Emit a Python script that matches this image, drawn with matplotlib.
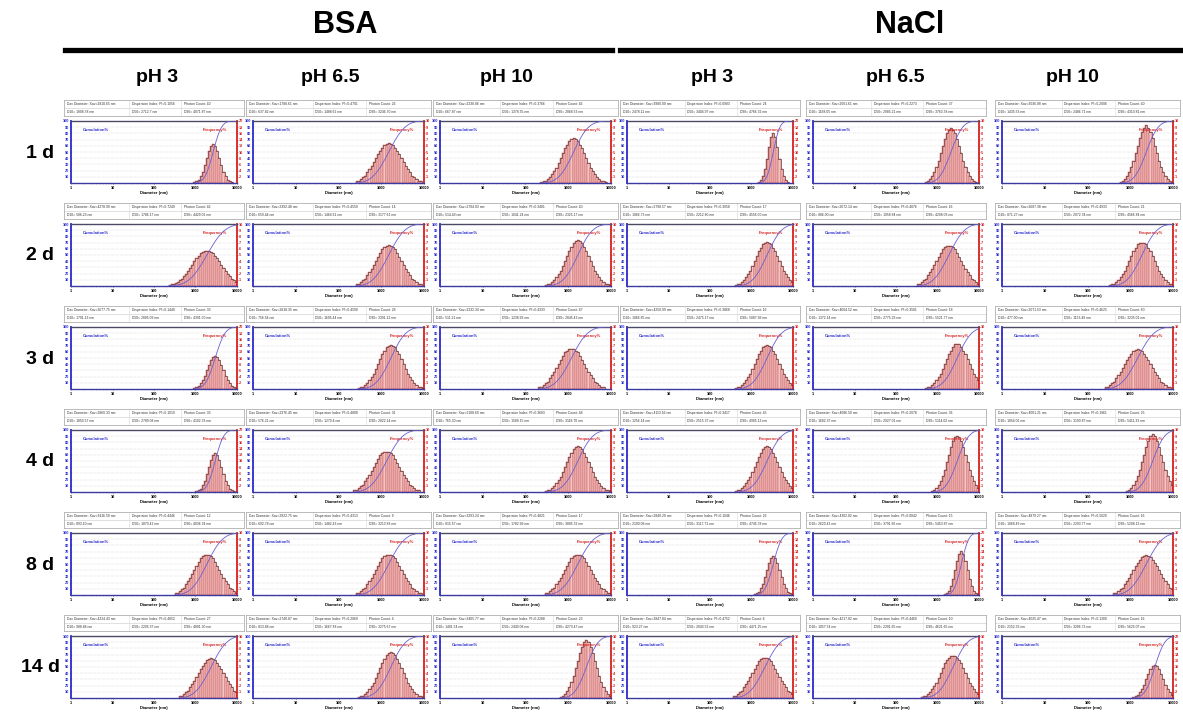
import numpy as np
import matplotlib
matplotlib.use('Agg')
import matplotlib.pyplot as plt
from matplotlib.lines import Line2D
from matplotlib.ticker import LogLocator, FixedLocator, NullFormatter

plt.rcParams['font.family'] = ['Liberation Sans', 'DejaVu Sans']

# ---------------- data ----------------
GROUPS = ['BSA', 'NaCl']
PH_LABELS = ['pH 3', 'pH 6.5', 'pH 10', 'pH 3', 'pH 6.5', 'pH 10']
DAY_LABELS = ['1 d', '2 d', '3 d', '4 d', '8 d', '14 d']
X_TICKS = [1, 10, 100, 1000, 10000]
X_TICK_LABELS = ['1', '10', '100', '1000', '10000']
BIN_STEP = 0.05  # width of one size class, in log10(nm)

# log10 of the lower edge of the first size class with data, per day (rows) and sample (cols)
FIRST_LOG = [
    [2.95, 2.40, 2.35, 3.15, 2.70, 2.75],
    [2.35, 2.40, 2.45, 2.60, 2.50, 2.50],
    [2.95, 2.45, 2.30, 2.60, 2.70, 2.40],
    [3.00, 2.35, 2.45, 2.60, 2.85, 2.90],
    [2.50, 2.40, 2.45, 3.05, 3.15, 2.60],
    [2.60, 2.45, 2.80, 2.55, 2.60, 3.05],
]
RIGHT_MAX = [
    [20, 10, 10, 20, 10, 10],
    [10, 10, 10, 10, 10, 10],
    [20, 10, 10, 10, 10, 10],
    [20, 10, 10, 10, 10, 10],
    [10, 10, 10, 20, 20, 10],
    [10, 10, 10, 10, 10, 20],
]

FREQ_1D = [
    [0.2, 0.6, 1.1, 2.2, 3.7, 5.7, 8.1, 10.3, 11.9, 12.5, 11.9, 10.3, 8.1, 5.7, 3.7, 2.2, 1.1, 0.6, 0.2],
    [0.3, 0.4, 0.6, 0.9, 1.2, 1.7, 2.2, 2.7, 3.4, 4.0, 4.6, 5.2, 5.7, 6.1, 6.3, 6.4, 6.3, 6.1, 5.7, 5.2, 4.6, 4.0, 3.4, 2.7, 2.2, 1.7, 1.2, 0.9, 0.6, 0.4, 0.3],
    [0.2, 0.3, 0.4, 0.7, 1.0, 1.4, 1.9, 2.5, 3.2, 4.0, 4.8, 5.6, 6.2, 6.8, 7.1, 7.3, 7.1, 6.8, 6.2, 5.6, 4.8, 4.0, 3.2, 2.5, 1.9, 1.4, 1.0, 0.7, 0.4, 0.3, 0.2],
    [0.3, 0.9, 2.2, 4.4, 7.8, 11.6, 14.8, 16.0, 14.8, 11.6, 7.8, 4.4, 2.2, 0.9, 0.3],
    [0.2, 0.4, 0.7, 1.1, 1.7, 2.6, 3.6, 4.8, 6.0, 7.1, 8.0, 8.6, 8.8, 8.6, 8.0, 7.1, 6.0, 4.8, 3.6, 2.6, 1.7, 1.1, 0.7, 0.4, 0.2],
    [0.2, 0.4, 0.7, 1.1, 1.7, 2.6, 3.6, 4.8, 6.0, 7.2, 8.2, 8.9, 9.3, 8.9, 8.2, 7.2, 6.0, 4.8, 3.6, 2.6, 1.7, 1.1, 0.7, 0.4, 0.2],
]
FREQ_2D = [
    [0.2, 0.3, 0.4, 0.5, 0.7, 0.9, 1.2, 1.6, 2.0, 2.4, 2.9, 3.4, 4.0, 4.5, 4.9, 5.3, 5.5, 5.6, 5.7, 5.6, 5.5, 5.3, 4.9, 4.5, 4.0, 3.4, 2.9, 2.4, 2.0, 1.6, 1.2, 0.9, 0.7, 0.5, 0.4, 0.3, 0.2],
    [0.3, 0.4, 0.6, 0.9, 1.2, 1.7, 2.2, 2.7, 3.4, 4.0, 4.7, 5.3, 5.9, 6.3, 6.5, 6.6, 6.5, 6.3, 5.9, 5.3, 4.7, 4.0, 3.4, 2.7, 2.2, 1.7, 1.2, 0.9, 0.6, 0.4, 0.3],
    [0.2, 0.3, 0.4, 0.7, 1.0, 1.4, 1.9, 2.5, 3.2, 4.0, 4.8, 5.6, 6.3, 6.9, 7.3, 7.4, 7.3, 6.9, 6.3, 5.6, 4.8, 4.0, 3.2, 2.5, 1.9, 1.4, 1.0, 0.7, 0.4, 0.3, 0.2],
    [0.2, 0.3, 0.4, 0.7, 1.0, 1.4, 1.9, 2.5, 3.2, 4.0, 4.8, 5.6, 6.2, 6.7, 7.0, 7.1, 7.0, 6.7, 6.2, 5.6, 4.8, 4.0, 3.2, 2.5, 1.9, 1.4, 1.0, 0.7, 0.4, 0.3, 0.2],
    [0.3, 0.4, 0.6, 0.9, 1.2, 1.7, 2.2, 2.7, 3.4, 4.0, 4.7, 5.3, 5.9, 6.3, 6.5, 6.5, 6.5, 6.3, 5.9, 5.3, 4.7, 4.0, 3.4, 2.7, 2.2, 1.7, 1.2, 0.9, 0.6, 0.4, 0.3],
    [0.2, 0.3, 0.4, 0.7, 1.0, 1.4, 1.9, 2.5, 3.2, 4.0, 4.8, 5.6, 6.2, 6.7, 6.9, 7.0, 6.9, 6.7, 6.2, 5.6, 4.8, 4.0, 3.2, 2.5, 1.9, 1.4, 1.0, 0.7, 0.4, 0.3, 0.2],
]
FREQ_3D = [
    [0.3, 0.6, 1.0, 1.8, 2.9, 4.3, 6.0, 7.8, 9.3, 10.2, 10.6, 10.2, 9.3, 7.8, 6.0, 4.3, 2.9, 1.8, 1.0, 0.6, 0.3],
    [0.2, 0.3, 0.4, 0.7, 1.0, 1.4, 1.9, 2.5, 3.2, 4.0, 4.8, 5.6, 6.2, 6.7, 7.0, 7.1, 7.0, 6.7, 6.2, 5.6, 4.8, 4.0, 3.2, 2.5, 1.9, 1.4, 1.0, 0.7, 0.4, 0.3, 0.2],
    [0.3, 0.4, 0.6, 0.9, 1.2, 1.7, 2.2, 2.7, 3.4, 4.0, 4.7, 5.3, 5.9, 6.2, 6.4, 6.5, 6.4, 6.2, 5.9, 5.3, 4.7, 4.0, 3.4, 2.7, 2.2, 1.7, 1.2, 0.9, 0.6, 0.4, 0.3],
    [0.2, 0.3, 0.4, 0.7, 1.0, 1.4, 1.9, 2.5, 3.2, 4.0, 4.8, 5.6, 6.2, 6.7, 7.0, 7.1, 7.0, 6.7, 6.2, 5.6, 4.8, 4.0, 3.2, 2.5, 1.9, 1.4, 1.0, 0.7, 0.4, 0.3, 0.2],
    [0.2, 0.3, 0.4, 0.7, 1.0, 1.4, 1.9, 2.5, 3.2, 4.0, 4.8, 5.6, 6.2, 6.8, 7.2, 7.3, 7.2, 6.8, 6.2, 5.6, 4.8, 4.0, 3.2, 2.5, 1.9, 1.4, 1.0, 0.7, 0.4, 0.3, 0.2],
    [0.3, 0.4, 0.6, 0.9, 1.2, 1.7, 2.2, 2.7, 3.4, 4.0, 4.6, 5.2, 5.7, 6.1, 6.3, 6.4, 6.3, 6.1, 5.7, 5.2, 4.6, 4.0, 3.4, 2.7, 2.2, 1.7, 1.2, 0.9, 0.6, 0.4, 0.3],
]
FREQ_4D = [
    [0.2, 0.6, 1.1, 2.2, 3.7, 5.7, 8.1, 10.3, 11.9, 12.5, 11.9, 10.3, 8.1, 5.7, 3.7, 2.2, 1.1, 0.6, 0.2],
    [0.3, 0.4, 0.6, 0.9, 1.2, 1.7, 2.2, 2.7, 3.4, 4.0, 4.7, 5.3, 5.9, 6.3, 6.5, 6.5, 6.5, 6.3, 5.9, 5.3, 4.7, 4.0, 3.4, 2.7, 2.2, 1.7, 1.2, 0.9, 0.6, 0.4, 0.3],
    [0.2, 0.3, 0.4, 0.7, 1.0, 1.4, 1.9, 2.5, 3.2, 4.0, 4.8, 5.6, 6.3, 6.9, 7.3, 7.4, 7.3, 6.9, 6.3, 5.6, 4.8, 4.0, 3.2, 2.5, 1.9, 1.4, 1.0, 0.7, 0.4, 0.3, 0.2],
    [0.2, 0.3, 0.4, 0.7, 1.0, 1.4, 1.9, 2.5, 3.2, 4.0, 4.8, 5.6, 6.3, 6.9, 7.3, 7.5, 7.3, 6.9, 6.3, 5.6, 4.8, 4.0, 3.2, 2.5, 1.9, 1.4, 1.0, 0.7, 0.4, 0.3, 0.2],
    [0.2, 0.4, 0.7, 1.1, 1.7, 2.6, 3.6, 4.8, 6.0, 7.2, 8.2, 8.9, 9.1, 8.9, 8.2, 7.2, 6.0, 4.8, 3.6, 2.6, 1.7, 1.1, 0.7, 0.4, 0.2],
    [0.2, 0.4, 0.7, 1.1, 1.7, 2.6, 3.6, 4.8, 6.0, 7.2, 8.2, 9.0, 9.3, 9.0, 8.2, 7.2, 6.0, 4.8, 3.6, 2.6, 1.7, 1.1, 0.7, 0.4, 0.2],
]
FREQ_8D = [
    [0.3, 0.4, 0.6, 0.9, 1.2, 1.7, 2.2, 2.7, 3.4, 4.0, 4.7, 5.3, 5.9, 6.3, 6.5, 6.5, 6.5, 6.3, 5.9, 5.3, 4.7, 4.0, 3.4, 2.7, 2.2, 1.7, 1.2, 0.9, 0.6, 0.4, 0.3],
    [0.3, 0.4, 0.6, 0.9, 1.2, 1.7, 2.2, 2.7, 3.4, 4.0, 4.7, 5.3, 5.9, 6.3, 6.5, 6.5, 6.5, 6.3, 5.9, 5.3, 4.7, 4.0, 3.4, 2.7, 2.2, 1.7, 1.2, 0.9, 0.6, 0.4, 0.3],
    [0.3, 0.4, 0.6, 0.9, 1.2, 1.7, 2.2, 2.7, 3.4, 4.0, 4.7, 5.3, 5.9, 6.3, 6.5, 6.5, 6.5, 6.3, 5.9, 5.3, 4.7, 4.0, 3.4, 2.7, 2.2, 1.7, 1.2, 0.9, 0.6, 0.4, 0.3],
    [0.2, 0.6, 1.1, 2.2, 3.7, 5.7, 8.1, 10.3, 11.9, 12.5, 11.9, 10.3, 8.1, 5.7, 3.7, 2.2, 1.1, 0.6, 0.2],
    [0.2, 0.6, 1.4, 2.9, 5.1, 8.0, 11.0, 13.3, 14.2, 13.3, 11.0, 8.0, 5.1, 2.9, 1.4, 0.6, 0.2],
    [0.3, 0.4, 0.6, 0.9, 1.2, 1.7, 2.2, 2.7, 3.4, 4.0, 4.6, 5.2, 5.7, 6.1, 6.3, 6.4, 6.3, 6.1, 5.7, 5.2, 4.6, 4.0, 3.4, 2.7, 2.2, 1.7, 1.2, 0.9, 0.6, 0.4, 0.3],
]
FREQ_14D = [
    [0.3, 0.4, 0.6, 0.9, 1.2, 1.7, 2.2, 2.7, 3.4, 4.0, 4.6, 5.2, 5.7, 6.1, 6.3, 6.4, 6.3, 6.1, 5.7, 5.2, 4.6, 4.0, 3.4, 2.7, 2.2, 1.7, 1.2, 0.9, 0.6, 0.4, 0.3],
    [0.2, 0.3, 0.4, 0.7, 1.0, 1.4, 1.9, 2.5, 3.2, 4.0, 4.8, 5.6, 6.3, 6.9, 7.3, 7.5, 7.3, 6.9, 6.3, 5.6, 4.8, 4.0, 3.2, 2.5, 1.9, 1.4, 1.0, 0.7, 0.4, 0.3, 0.2],
    [0.2, 0.4, 0.7, 1.1, 1.7, 2.6, 3.6, 4.8, 6.0, 7.2, 8.2, 9.0, 9.3, 9.0, 8.2, 7.2, 6.0, 4.8, 3.6, 2.6, 1.7, 1.1, 0.7, 0.4, 0.2],
    [0.3, 0.4, 0.6, 0.9, 1.2, 1.7, 2.2, 2.7, 3.4, 4.0, 4.7, 5.3, 5.9, 6.3, 6.5, 6.5, 6.5, 6.3, 5.9, 5.3, 4.7, 4.0, 3.4, 2.7, 2.2, 1.7, 1.2, 0.9, 0.6, 0.4, 0.3],
    [0.2, 0.3, 0.4, 0.7, 1.0, 1.4, 1.9, 2.5, 3.2, 4.0, 4.8, 5.6, 6.1, 6.5, 6.7, 6.8, 6.7, 6.5, 6.1, 5.6, 4.8, 4.0, 3.2, 2.5, 1.9, 1.4, 1.0, 0.7, 0.4, 0.3, 0.2],
    [0.3, 0.6, 1.0, 1.8, 2.9, 4.3, 6.0, 7.8, 9.3, 10.4, 10.8, 10.4, 9.3, 7.8, 6.0, 4.3, 2.9, 1.8, 1.0, 0.6, 0.3],
]
FREQ = [FREQ_1D, FREQ_2D, FREQ_3D, FREQ_4D, FREQ_8D, FREQ_14D]

XAV = [
    ['2810.65', '1788.61', '2238.86', '3980.00', '2001.61', '3036.88'],
    ['4278.90', '2392.48', '2704.03', '2798.57', '2672.14', '2687.38'],
    ['2677.75', '2818.35', '2232.34', '4250.99', '4604.52', '2071.53'],
    ['2860.33', '2376.45', '2108.60', '4113.56', '4086.50', '4001.21'],
    ['3416.50', '2922.75', '3293.24', '2849.20', '4302.82', '4879.27'],
    ['4224.43', '2740.87', '3405.77', '3847.84', '4217.82', '4025.47'],
]
PI = [
    ['0.1056', '0.4701', '0.3766', '0.0983', '0.2273', '0.2006'],
    ['0.7249', '0.4550', '0.3481', '0.3058', '0.4876', '0.4933'],
    ['0.1440', '0.4590', '0.4333', '0.3868', '0.3581', '0.4625'],
    ['0.1019', '0.4808', '0.3683', '0.3417', '0.2078', '0.1961'],
    ['0.4446', '0.4313', '0.4821', '0.1046', '0.0842', '0.5020'],
    ['0.4852', '0.2060', '0.2288', '0.4752', '0.4460', '0.1300'],
]
PHOTON = [
    [40, 26, 46, 24, 37, 40],
    [46, 14, 40, 17, 16, 21],
    [33, 28, 47, 16, 18, 60],
    [33, 31, 48, 45, 36, 25],
    [12, 9, 17, 26, 15, 16],
    [27, 4, 23, 6, 10, 16],
]
D10 = [
    ['1808.78', '637.82', '667.87', '2478.11', '1168.05', '1435.53'],
    ['586.23', '659.44', '514.49', '1066.73', '886.00', '871.27'],
    ['1791.13', '756.54', '511.21', '1066.85', '1372.14', '477.00'],
    ['1850.57', '576.21', '765.30', '1256.14', '1682.37', '1854.06'],
    ['893.10', '692.78', '815.57', '2100.08', '2620.42', '1068.49'],
    ['988.88', '813.88', '1401.54', '923.27', '1057.54', '2152.32'],
]
D50 = [
    ['2712.7', '1488.62', '1378.35', '3404.97', '2085.21', '2486.71'],
    ['1786.17', '1464.61', '1041.24', '2212.80', '1958.84', '2072.34'],
    ['2805.09', '1605.44', '1238.92', '2475.17', '2775.23', '1153.49'],
    ['2789.08', '1279.4', '1589.15', '2515.37', '2927.01', '3190.87'],
    ['1870.42', '1482.43', '1782.99', '3117.71', '3791.66', '2293.77'],
    ['2205.37', '1667.88', '2440.08', '2043.52', '2201.65', '3206.73'],
]
D90 = [
    ['4071.87', '3246.70', '2868.53', '4766.32', '3763.38', '4310.81'],
    ['4429.06', '3177.62', '2325.17', '4556.00', '4298.03', '4566.84'],
    ['4391.00', '3391.12', '2845.43', '5087.99', '5521.77', '3235.01'],
    ['4102.33', '2822.14', '3118.70', '4985.13', '5114.02', '5411.33'],
    ['4036.34', '3213.88', '3885.32', '4745.78', '5453.87', '5208.13'],
    ['4801.30', '3275.67', '4273.47', '4471.25', '4621.65', '5625.07'],
]

# ---------------- layout ----------------
W, H = 1183, 715
fig = plt.figure(figsize=(W / 100, H / 100), dpi=100)
fig.patch.set_facecolor('white')


def px_axes(x0, y0, x1, y1):
    return fig.add_axes([x0 / W, 1 - y1 / H, (x1 - x0) / W, (y1 - y0) / H])


PLOT_X = [(71, 237), (253, 424), (440, 611), (627, 793), (813, 979), (1002, 1173)]
ROW_PITCH = 103
PLOT_TOP, PLOT_BOTTOM = 121, 183
TAB_TOP, TAB_BOTTOM = 100, 116

BLUE = '#2a2acc'
RED = '#d42020'
SMALL = 2.8

# headers
fig.text(345 / W, 1 - 25 / H, GROUPS[0], ha='center', va='center', fontsize=22, fontweight='bold')
fig.text(910 / W, 1 - 25 / H, GROUPS[1], ha='center', va='center', fontsize=22, fontweight='bold')
fig.add_artist(Line2D([65 / W, 612 / W], [1 - 50 / H] * 2, lw=3.8, color='black'))
fig.add_artist(Line2D([620 / W, 1180 / W], [1 - 50 / H] * 2, lw=3.8, color='black'))
PH_X = [157, 330, 506, 712, 895, 1072]
for lab, x in zip(PH_LABELS, PH_X):
    fig.text(x / W, 1 - 78 / H, lab, ha='center', va='center', fontsize=14, fontweight='bold')
for r, lab in enumerate(DAY_LABELS):
    fig.text(40 / W, 1 - (153 + ROW_PITCH * r) / H, lab, ha='center', va='center',
             fontsize=14, fontweight='bold')

for r in range(6):
    for c in range(6):
        x0, x1 = PLOT_X[c]
        off = ROW_PITCH * r
        # ---- info table ----
        tax = px_axes(x0 - 7, TAB_TOP + off, x1 + 7, TAB_BOTTOM + off)
        tax.set_xlim(0, 1)
        tax.set_ylim(0, 2)
        tax.set_xticks([])
        tax.set_yticks([])
        for s in tax.spines.values():
            s.set_color('#b0b0b0')
            s.set_linewidth(0.6)
        tax.axhline(1, color='#c8c8c8', lw=0.4)
        for xs in (0.36, 0.65):
            tax.axvline(xs, color='#d8d8d8', lw=0.4)
        row1 = [f'Dav Diameter: Xav={XAV[r][c]} nm', f'Dispersion Index: PI={PI[r][c]}',
                f'Photon Count: {PHOTON[r][c]}']
        row2 = [f'D10= {D10[r][c]} nm', f'D50= {D50[r][c]} nm', f'D90= {D90[r][c]} nm']
        for xs, t1, t2 in zip((0.015, 0.375, 0.665), row1, row2):
            tax.text(xs, 1.5, t1, fontsize=2.4, va='center', ha='left', color='#333333')
            tax.text(xs, 0.5, t2, fontsize=2.4, va='center', ha='left', color='#333333')

        # ---- DLS plot ----
        ax = px_axes(x0, PLOT_TOP + off, x1, PLOT_BOTTOM + off)
        ax2 = ax.twinx()
        ax.set_zorder(ax2.get_zorder() + 1)
        ax.patch.set_visible(False)

        freq = np.array(FREQ[r][c])
        edges = 10 ** (FIRST_LOG[r][c] + BIN_STEP * np.arange(len(freq) + 1))
        rmax = RIGHT_MAX[r][c]

        ax2.bar(edges[:-1], freq, width=np.diff(edges), align='edge',
                facecolor='#f3c6c6', edgecolor='#c03838', linewidth=0.3, zorder=2)
        ax2.stairs(freq, edges, color='#5a2a2a', lw=0.45, zorder=3)

        cum = np.concatenate([[0.0], np.cumsum(freq)]) / freq.sum() * 100
        ax.plot(np.concatenate([edges, [10000]]), np.concatenate([cum, [100]]),
                color='#6b5fd0', lw=0.6, zorder=4)

        for a in (ax, ax2):
            a.set_xscale('log')
            a.set_xlim(1, 10000)
        ax.set_ylim(0, 100)
        ax2.set_ylim(0, rmax)

        ax.xaxis.set_major_locator(FixedLocator(X_TICKS))
        ax.set_xticklabels(X_TICK_LABELS)
        ax.xaxis.set_minor_locator(LogLocator(base=10, subs=np.arange(2, 10)))
        ax.xaxis.set_minor_formatter(NullFormatter())
        ax.set_yticks(np.arange(10, 101, 10))
        ax2.set_yticks(np.arange(1, 11) * rmax / 10)
        ax2.set_yticklabels([f'{v:g}' for v in np.arange(1, 11) * rmax / 10])

        ax.tick_params(axis='x', which='major', labelsize=SMALL, length=1.0, width=0.4, pad=1)
        ax.tick_params(axis='x', which='minor', length=0.5, width=0.3)
        ax.tick_params(axis='y', labelsize=SMALL, length=0.8, width=0.4, pad=0.5,
                       colors=BLUE, labelcolor=BLUE)
        ax2.tick_params(axis='y', labelsize=SMALL, length=0.8, width=0.4, pad=0.5,
                        colors=RED, labelcolor=RED)
        for lab in ax.get_xticklabels() + ax.get_yticklabels() + ax2.get_yticklabels():
            lab.set_fontweight('bold')

        ax2.grid(True, which='both', axis='x', ls=':', color='#b8b8b8', lw=0.35)
        ax2.grid(True, which='major', axis='y', ls=':', color='#b8b8b8', lw=0.35)
        ax2.set_axisbelow(True)

        ax.set_xlabel('Diameter (nm)', fontsize=SMALL + 0.2, fontweight='bold', labelpad=1)

        ax.spines['left'].set_color(BLUE)
        ax.spines['left'].set_linewidth(1.3)
        ax.spines['right'].set_visible(False)
        ax.spines['top'].set_color('#4a4a66')
        ax.spines['top'].set_linewidth(1.0)
        ax.spines['bottom'].set_color('#3a3aa0')
        ax.spines['bottom'].set_linewidth(1.0)
        ax2.spines['right'].set_color(RED)
        ax2.spines['right'].set_linewidth(1.3)
        for s in ('left', 'top', 'bottom'):
            ax2.spines[s].set_visible(False)

        ax.text(0.07, 0.86, 'Cumulation%', transform=ax.transAxes, fontsize=SMALL + 0.2,
                color=BLUE, fontweight='bold', ha='left', va='center')
        ax.text(0.94, 0.86, 'Frequency%', transform=ax.transAxes, fontsize=SMALL + 0.2,
                color=RED, fontweight='bold', ha='right', va='center')

fig.savefig('out.png', dpi=100, facecolor='white')
